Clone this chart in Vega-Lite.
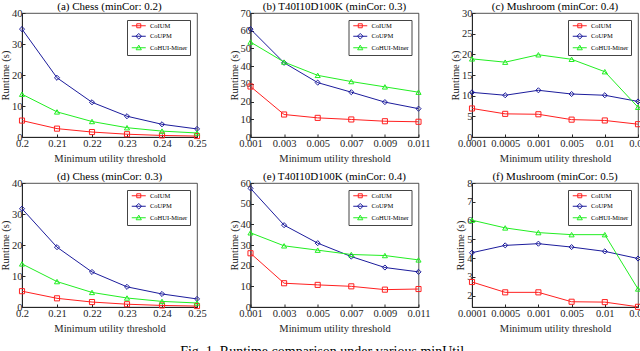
{
"$schema": "https://vega.github.io/schema/vega-lite/v6.json",
"padding": {"left": 0, "top": 0, "right": 0, "bottom": 0},
"title": {"text": "Fig. 1. Runtime comparison under various minUtil.", "orient": "bottom", "fontSize": 14, "fontWeight": "normal", "font": "Liberation Serif", "color": "#000", "offset": 11, "anchor": "middle"},
"datasets": {"d": [
{"p":"a","t":"0.2","algo":"CoIUM","rt":5.3},{"p":"a","t":"0.21","algo":"CoIUM","rt":2.7},{"p":"a","t":"0.22","algo":"CoIUM","rt":1.6},{"p":"a","t":"0.23","algo":"CoIUM","rt":0.9},{"p":"a","t":"0.24","algo":"CoIUM","rt":0.5},{"p":"a","t":"0.25","algo":"CoIUM","rt":0.3},
{"p":"a","t":"0.2","algo":"CoUPM","rt":34.8},{"p":"a","t":"0.21","algo":"CoUPM","rt":19.1},{"p":"a","t":"0.22","algo":"CoUPM","rt":11.2},{"p":"a","t":"0.23","algo":"CoUPM","rt":6.7},{"p":"a","t":"0.24","algo":"CoUPM","rt":4.1},{"p":"a","t":"0.25","algo":"CoUPM","rt":2.6},
{"p":"a","t":"0.2","algo":"CoHUI-Miner","rt":13.8},{"p":"a","t":"0.21","algo":"CoHUI-Miner","rt":8.1},{"p":"a","t":"0.22","algo":"CoHUI-Miner","rt":5.0},{"p":"a","t":"0.23","algo":"CoHUI-Miner","rt":3.0},{"p":"a","t":"0.24","algo":"CoHUI-Miner","rt":1.9},{"p":"a","t":"0.25","algo":"CoHUI-Miner","rt":1.3},
{"p":"b","t":"0.001","algo":"CoIUM","rt":28.5},{"p":"b","t":"0.003","algo":"CoIUM","rt":12.7},{"p":"b","t":"0.005","algo":"CoIUM","rt":10.8},{"p":"b","t":"0.007","algo":"CoIUM","rt":9.9},{"p":"b","t":"0.009","algo":"CoIUM","rt":8.9},{"p":"b","t":"0.011","algo":"CoIUM","rt":8.6},
{"p":"b","t":"0.001","algo":"CoUPM","rt":60.9},{"p":"b","t":"0.003","algo":"CoUPM","rt":41.9},{"p":"b","t":"0.005","algo":"CoUPM","rt":30.7},{"p":"b","t":"0.007","algo":"CoUPM","rt":25.3},{"p":"b","t":"0.009","algo":"CoUPM","rt":19.7},{"p":"b","t":"0.011","algo":"CoUPM","rt":16.0},
{"p":"b","t":"0.001","algo":"CoHUI-Miner","rt":53.6},{"p":"b","t":"0.003","algo":"CoHUI-Miner","rt":42.3},{"p":"b","t":"0.005","algo":"CoHUI-Miner","rt":34.8},{"p":"b","t":"0.007","algo":"CoHUI-Miner","rt":31.3},{"p":"b","t":"0.009","algo":"CoHUI-Miner","rt":28.3},{"p":"b","t":"0.011","algo":"CoHUI-Miner","rt":25.3},
{"p":"c","t":"0.0001","algo":"CoIUM","rt":6.9},{"p":"c","t":"0.0005","algo":"CoIUM","rt":5.6},{"p":"c","t":"0.001","algo":"CoIUM","rt":5.5},{"p":"c","t":"0.005","algo":"CoIUM","rt":4.2},{"p":"c","t":"0.01","algo":"CoIUM","rt":4.0},{"p":"c","t":"0.05","algo":"CoIUM","rt":3.1},
{"p":"c","t":"0.0001","algo":"CoUPM","rt":10.8},{"p":"c","t":"0.0005","algo":"CoUPM","rt":10.1},{"p":"c","t":"0.001","algo":"CoUPM","rt":11.3},{"p":"c","t":"0.005","algo":"CoUPM","rt":10.4},{"p":"c","t":"0.01","algo":"CoUPM","rt":10.1},{"p":"c","t":"0.05","algo":"CoUPM","rt":8.6},
{"p":"c","t":"0.0001","algo":"CoHUI-Miner","rt":18.9},{"p":"c","t":"0.0005","algo":"CoHUI-Miner","rt":18.1},{"p":"c","t":"0.001","algo":"CoHUI-Miner","rt":19.9},{"p":"c","t":"0.005","algo":"CoHUI-Miner","rt":18.8},{"p":"c","t":"0.01","algo":"CoHUI-Miner","rt":15.8},{"p":"c","t":"0.05","algo":"CoHUI-Miner","rt":7.2},
{"p":"d","t":"0.2","algo":"CoIUM","rt":5.1},{"p":"d","t":"0.21","algo":"CoIUM","rt":2.8},{"p":"d","t":"0.22","algo":"CoIUM","rt":1.6},{"p":"d","t":"0.23","algo":"CoIUM","rt":0.9},{"p":"d","t":"0.24","algo":"CoIUM","rt":0.5},{"p":"d","t":"0.25","algo":"CoIUM","rt":0.3},
{"p":"d","t":"0.2","algo":"CoUPM","rt":31.7},{"p":"d","t":"0.21","algo":"CoUPM","rt":19.3},{"p":"d","t":"0.22","algo":"CoUPM","rt":11.3},{"p":"d","t":"0.23","algo":"CoUPM","rt":6.5},{"p":"d","t":"0.24","algo":"CoUPM","rt":4.2},{"p":"d","t":"0.25","algo":"CoUPM","rt":2.6},
{"p":"d","t":"0.2","algo":"CoHUI-Miner","rt":13.9},{"p":"d","t":"0.21","algo":"CoHUI-Miner","rt":8.2},{"p":"d","t":"0.22","algo":"CoHUI-Miner","rt":4.7},{"p":"d","t":"0.23","algo":"CoHUI-Miner","rt":2.9},{"p":"d","t":"0.24","algo":"CoHUI-Miner","rt":1.8},{"p":"d","t":"0.25","algo":"CoHUI-Miner","rt":1.3},
{"p":"e","t":"0.001","algo":"CoIUM","rt":26.0},{"p":"e","t":"0.003","algo":"CoIUM","rt":11.5},{"p":"e","t":"0.005","algo":"CoIUM","rt":10.7},{"p":"e","t":"0.007","algo":"CoIUM","rt":10.0},{"p":"e","t":"0.009","algo":"CoIUM","rt":8.4},{"p":"e","t":"0.011","algo":"CoIUM","rt":8.7},
{"p":"e","t":"0.001","algo":"CoUPM","rt":57.4},{"p":"e","t":"0.003","algo":"CoUPM","rt":39.6},{"p":"e","t":"0.005","algo":"CoUPM","rt":30.9},{"p":"e","t":"0.007","algo":"CoUPM","rt":24.4},{"p":"e","t":"0.009","algo":"CoUPM","rt":19.1},{"p":"e","t":"0.011","algo":"CoUPM","rt":17.0},
{"p":"e","t":"0.001","algo":"CoHUI-Miner","rt":35.9},{"p":"e","t":"0.003","algo":"CoHUI-Miner","rt":29.6},{"p":"e","t":"0.005","algo":"CoHUI-Miner","rt":27.5},{"p":"e","t":"0.007","algo":"CoHUI-Miner","rt":25.4},{"p":"e","t":"0.009","algo":"CoHUI-Miner","rt":24.9},{"p":"e","t":"0.011","algo":"CoHUI-Miner","rt":22.8},
{"p":"f","t":"0.0001","algo":"CoIUM","rt":2.73},{"p":"f","t":"0.0005","algo":"CoIUM","rt":2.18},{"p":"f","t":"0.001","algo":"CoIUM","rt":2.18},{"p":"f","t":"0.005","algo":"CoIUM","rt":1.68},{"p":"f","t":"0.01","algo":"CoIUM","rt":1.66},{"p":"f","t":"0.05","algo":"CoIUM","rt":1.41},
{"p":"f","t":"0.0001","algo":"CoUPM","rt":4.29},{"p":"f","t":"0.0005","algo":"CoUPM","rt":4.68},{"p":"f","t":"0.001","algo":"CoUPM","rt":4.77},{"p":"f","t":"0.005","algo":"CoUPM","rt":4.59},{"p":"f","t":"0.01","algo":"CoUPM","rt":4.36},{"p":"f","t":"0.05","algo":"CoUPM","rt":3.98},
{"p":"f","t":"0.0001","algo":"CoHUI-Miner","rt":6.02},{"p":"f","t":"0.0005","algo":"CoHUI-Miner","rt":5.61},{"p":"f","t":"0.001","algo":"CoHUI-Miner","rt":5.36},{"p":"f","t":"0.005","algo":"CoHUI-Miner","rt":5.25},{"p":"f","t":"0.01","algo":"CoHUI-Miner","rt":5.25},{"p":"f","t":"0.05","algo":"CoHUI-Miner","rt":2.36}
]},
"data": {"name": "d"},
"resolve": {"scale": {"color": "independent"}, "legend": {"color": "independent"}},
"vconcat": [
{"hconcat": [
{"width": 175, "height": 124, "title": {"text": "(a) Chess (minCor: 0.2)", "fontSize": 11, "fontWeight": "normal", "font": "Liberation Serif", "color": "#000", "offset": -4},
 "transform": [{"filter": "datum.p === 'a'"}],
 "encoding": {
  "x": {"field": "t", "type": "ordinal", "sort": ["0.2","0.21","0.22","0.23","0.24","0.25"], "scale": {"type": "point", "padding": 0}, "axis": {"title": "Minimum utility threshold", "labelAngle": 0}},
  "y": {"field": "rt", "type": "quantitative", "scale": {"domain": [0, 40], "nice": false, "zero": false}, "axis": {"values": [0,10,20,30,40], "title": "Runtime (s)"}},
  "color": {"field": "algo", "type": "nominal", "scale": {"domain": ["CoIUM","CoUPM","CoHUI-Miner"], "range": ["#ff2020","#1c1c9c","#22ee22"]},
   "legend": {"title": null, "encode": {"symbols": {"update": {"shape": {"signal": "datum.value === 'CoIUM' ? 'M-3.5,0H3.5M-1,-1H1V1H-1Z' : datum.value === 'CoUPM' ? 'M-3.5,0H3.5M0,-1.4L1.4,0L0,1.4L-1.4,0Z' : 'M-3.5,0H3.5M0,-1.3L1.3,1L-1.3,1Z'"}, "fill": {"value": "transparent"}}}}}}
 },
 "layer": [
  {"mark": {"type": "line", "strokeWidth": 1}},
  {"mark": {"type": "point", "filled": false, "size": 26, "strokeWidth": 1, "opacity": 1, "shape": {"expr": "datum.algo === 'CoIUM' ? 'square' : datum.algo === 'CoUPM' ? 'diamond' : 'triangle-up'"}}}
 ]},
{"width": 168, "height": 124, "title": {"text": "(b) T40I10D100K (minCor: 0.3)", "fontSize": 11, "fontWeight": "normal", "font": "Liberation Serif", "color": "#000", "offset": -4},
 "transform": [{"filter": "datum.p === 'b'"}],
 "encoding": {
  "x": {"field": "t", "type": "ordinal", "sort": ["0.001","0.003","0.005","0.007","0.009","0.011"], "scale": {"type": "point", "padding": 0}, "axis": {"title": "Minimum utility threshold", "labelAngle": 0}},
  "y": {"field": "rt", "type": "quantitative", "scale": {"domain": [0, 70], "nice": false, "zero": false}, "axis": {"values": [0,10,20,30,40,50,60,70], "title": "Runtime (s)"}},
  "color": {"field": "algo", "type": "nominal", "scale": {"domain": ["CoIUM","CoUPM","CoHUI-Miner"], "range": ["#ff2020","#1c1c9c","#22ee22"]},
   "legend": {"title": null, "encode": {"symbols": {"update": {"shape": {"signal": "datum.value === 'CoIUM' ? 'M-3.5,0H3.5M-1,-1H1V1H-1Z' : datum.value === 'CoUPM' ? 'M-3.5,0H3.5M0,-1.4L1.4,0L0,1.4L-1.4,0Z' : 'M-3.5,0H3.5M0,-1.3L1.3,1L-1.3,1Z'"}, "fill": {"value": "transparent"}}}}}}
 },
 "layer": [
  {"mark": {"type": "line", "strokeWidth": 1}},
  {"mark": {"type": "point", "filled": false, "size": 26, "strokeWidth": 1, "opacity": 1, "shape": {"expr": "datum.algo === 'CoIUM' ? 'square' : datum.algo === 'CoUPM' ? 'diamond' : 'triangle-up'"}}}
 ]},
{"width": 166, "height": 124, "title": {"text": "(c) Mushroom (minCor: 0.4)", "fontSize": 11, "fontWeight": "normal", "font": "Liberation Serif", "color": "#000", "offset": -4},
 "transform": [{"filter": "datum.p === 'c'"}],
 "encoding": {
  "x": {"field": "t", "type": "ordinal", "sort": ["0.0001","0.0005","0.001","0.005","0.01","0.05"], "scale": {"type": "point", "padding": 0}, "axis": {"title": "Minimum utility threshold", "labelAngle": 0}},
  "y": {"field": "rt", "type": "quantitative", "scale": {"domain": [0, 30], "nice": false, "zero": false}, "axis": {"values": [0,5,10,15,20,25,30], "title": "Runtime (s)"}},
  "color": {"field": "algo", "type": "nominal", "scale": {"domain": ["CoIUM","CoUPM","CoHUI-Miner"], "range": ["#ff2020","#1c1c9c","#22ee22"]},
   "legend": {"title": null, "encode": {"symbols": {"update": {"shape": {"signal": "datum.value === 'CoIUM' ? 'M-3.5,0H3.5M-1,-1H1V1H-1Z' : datum.value === 'CoUPM' ? 'M-3.5,0H3.5M0,-1.4L1.4,0L0,1.4L-1.4,0Z' : 'M-3.5,0H3.5M0,-1.3L1.3,1L-1.3,1Z'"}, "fill": {"value": "transparent"}}}}}}
 },
 "layer": [
  {"mark": {"type": "line", "strokeWidth": 1}},
  {"mark": {"type": "point", "filled": false, "size": 26, "strokeWidth": 1, "opacity": 1, "shape": {"expr": "datum.algo === 'CoIUM' ? 'square' : datum.algo === 'CoUPM' ? 'diamond' : 'triangle-up'"}}}
 ]}
], "spacing": 53.5, "bounds": "flush", "resolve": {"scale": {"color": "independent"}, "legend": {"color": "independent"}}},
{"hconcat": [
{"width": 175, "height": 124, "title": {"text": "(d) Chess (minCor: 0.3)", "fontSize": 11, "fontWeight": "normal", "font": "Liberation Serif", "color": "#000", "offset": -4},
 "transform": [{"filter": "datum.p === 'd'"}],
 "encoding": {
  "x": {"field": "t", "type": "ordinal", "sort": ["0.2","0.21","0.22","0.23","0.24","0.25"], "scale": {"type": "point", "padding": 0}, "axis": {"title": "Minimum utility threshold", "labelAngle": 0}},
  "y": {"field": "rt", "type": "quantitative", "scale": {"domain": [0, 40], "nice": false, "zero": false}, "axis": {"values": [0,10,20,30,40], "title": "Runtime (s)"}},
  "color": {"field": "algo", "type": "nominal", "scale": {"domain": ["CoIUM","CoUPM","CoHUI-Miner"], "range": ["#ff2020","#1c1c9c","#22ee22"]},
   "legend": {"title": null, "encode": {"symbols": {"update": {"shape": {"signal": "datum.value === 'CoIUM' ? 'M-3.5,0H3.5M-1,-1H1V1H-1Z' : datum.value === 'CoUPM' ? 'M-3.5,0H3.5M0,-1.4L1.4,0L0,1.4L-1.4,0Z' : 'M-3.5,0H3.5M0,-1.3L1.3,1L-1.3,1Z'"}, "fill": {"value": "transparent"}}}}}}
 },
 "layer": [
  {"mark": {"type": "line", "strokeWidth": 1}},
  {"mark": {"type": "point", "filled": false, "size": 26, "strokeWidth": 1, "opacity": 1, "shape": {"expr": "datum.algo === 'CoIUM' ? 'square' : datum.algo === 'CoUPM' ? 'diamond' : 'triangle-up'"}}}
 ]},
{"width": 168, "height": 124, "title": {"text": "(e) T40I10D100K (minCor: 0.4)", "fontSize": 11, "fontWeight": "normal", "font": "Liberation Serif", "color": "#000", "offset": -4},
 "transform": [{"filter": "datum.p === 'e'"}],
 "encoding": {
  "x": {"field": "t", "type": "ordinal", "sort": ["0.001","0.003","0.005","0.007","0.009","0.011"], "scale": {"type": "point", "padding": 0}, "axis": {"title": "Minimum utility threshold", "labelAngle": 0}},
  "y": {"field": "rt", "type": "quantitative", "scale": {"domain": [0, 60], "nice": false, "zero": false}, "axis": {"values": [0,10,20,30,40,50,60], "title": "Runtime (s)"}},
  "color": {"field": "algo", "type": "nominal", "scale": {"domain": ["CoIUM","CoUPM","CoHUI-Miner"], "range": ["#ff2020","#1c1c9c","#22ee22"]},
   "legend": {"title": null, "encode": {"symbols": {"update": {"shape": {"signal": "datum.value === 'CoIUM' ? 'M-3.5,0H3.5M-1,-1H1V1H-1Z' : datum.value === 'CoUPM' ? 'M-3.5,0H3.5M0,-1.4L1.4,0L0,1.4L-1.4,0Z' : 'M-3.5,0H3.5M0,-1.3L1.3,1L-1.3,1Z'"}, "fill": {"value": "transparent"}}}}}}
 },
 "layer": [
  {"mark": {"type": "line", "strokeWidth": 1}},
  {"mark": {"type": "point", "filled": false, "size": 26, "strokeWidth": 1, "opacity": 1, "shape": {"expr": "datum.algo === 'CoIUM' ? 'square' : datum.algo === 'CoUPM' ? 'diamond' : 'triangle-up'"}}}
 ]},
{"width": 166, "height": 124, "title": {"text": "(f) Mushroom (minCor: 0.5)", "fontSize": 11, "fontWeight": "normal", "font": "Liberation Serif", "color": "#000", "offset": -4},
 "transform": [{"filter": "datum.p === 'f'"}],
 "encoding": {
  "x": {"field": "t", "type": "ordinal", "sort": ["0.0001","0.0005","0.001","0.005","0.01","0.05"], "scale": {"type": "point", "padding": 0}, "axis": {"title": "Minimum utility threshold", "labelAngle": 0}},
  "y": {"field": "rt", "type": "quantitative", "scale": {"domain": [1.4, 8], "nice": false, "zero": false}, "axis": {"values": [2,3,4,5,6,7,8], "title": "Runtime (s)"}},
  "color": {"field": "algo", "type": "nominal", "scale": {"domain": ["CoIUM","CoUPM","CoHUI-Miner"], "range": ["#ff2020","#1c1c9c","#22ee22"]},
   "legend": {"title": null, "encode": {"symbols": {"update": {"shape": {"signal": "datum.value === 'CoIUM' ? 'M-3.5,0H3.5M-1,-1H1V1H-1Z' : datum.value === 'CoUPM' ? 'M-3.5,0H3.5M0,-1.4L1.4,0L0,1.4L-1.4,0Z' : 'M-3.5,0H3.5M0,-1.3L1.3,1L-1.3,1Z'"}, "fill": {"value": "transparent"}}}}}}
 },
 "layer": [
  {"mark": {"type": "line", "strokeWidth": 1}},
  {"mark": {"type": "point", "filled": false, "size": 26, "strokeWidth": 1, "opacity": 1, "shape": {"expr": "datum.algo === 'CoIUM' ? 'square' : datum.algo === 'CoUPM' ? 'diamond' : 'triangle-up'"}}}
 ]}
], "spacing": 53.5, "bounds": "flush", "resolve": {"scale": {"color": "independent"}, "legend": {"color": "independent"}}}
],
"spacing": 5,
"config": {
 "font": "Liberation Serif",
 "view": {"stroke": "#262626", "strokeWidth": 0.8},
 "axis": {"grid": false, "labelFont": "Liberation Serif", "titleFont": "Liberation Serif", "labelFontSize": 10.5, "titleFontSize": 10.5, "titleFontWeight": "normal", "labelColor": "#262626", "titleColor": "#262626", "domainColor": "#262626", "tickColor": "#262626", "tickSize": -3, "labelPadding": 3},
 "axisX": {"labelPadding": 4, "titlePadding": 5},
 "axisY": {"labelPadding": 3, "titlePadding": 1},
 "legend": {"orient": "top-right", "offset": 7, "labelFont": "Liberation Serif", "labelFontSize": 6.5, "labelColor": "#000", "symbolSize": 16, "symbolStrokeWidth": 1, "rowPadding": 0.5, "padding": 2.5, "strokeColor": "#444", "fillColor": "white", "symbolOffset": 6, "labelOffset": 8, "cornerRadius": 0}
}
}
